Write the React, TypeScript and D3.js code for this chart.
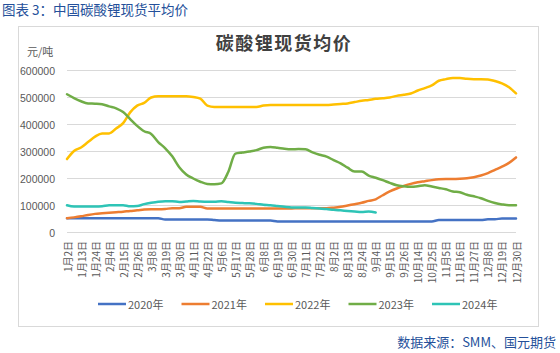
import React from "react";
import * as d3 from "d3";

// Category axis: trading days, labelled every 11th category
const xTickLabels = [
  "1月2日", "1月13日", "1月24日", "2月4日", "2月15日", "2月26日", "3月8日", "3月19日", "3月30日",
  "4月11日", "4月22日", "5月6日", "5月17日", "5月28日", "6月8日", "6月19日", "6月30日", "7月11日",
  "7月22日", "8月2日", "8月13日", "8月24日", "9月4日", "9月15日", "9月26日", "10月14日", "10月25日",
  "11月5日", "11月16日", "11月27日", "12月8日", "12月19日", "12月30日",
];
const yTicks = [0, 100000, 200000, 300000, 400000, 500000, 600000];

// values in thousand yuan/ton, sampled every 5.5 categories
const series2020 = [
  53, 53, 53, 53, 53, 53, 53, 53, 53, 53, 53, 53, 53, 53,
  48, 48, 48, 48, 48, 48, 48, 46,
  44, 44, 44, 44, 44, 44, 44, 44,
  41, 41, 41, 41, 41, 41, 41, 41, 41, 41, 41, 41, 41, 41, 41, 41, 41, 41, 41, 41, 41, 41, 41,
  46, 46, 46, 46, 46, 46, 46, 49, 49, 52, 52, 52,
];
const series2021 = [
  53, 56, 60, 65, 69, 71, 73, 75, 77, 80, 82, 85, 86, 86, 87, 90, 90,
  95, 95, 95,
  89, 89, 89, 89, 89, 89, 89, 89, 89, 89, 89, 89, 89,
  90, 90, 90, 90, 90,
  92, 95, 100, 105, 110, 117, 123, 138, 152, 163, 172, 180, 186, 190, 194, 197, 198, 198, 199,
  201, 205, 211, 220, 232, 244, 258, 278,
];
const series2022 = [
  272, 302, 315, 335, 355, 367, 367, 385, 405, 445, 470, 480, 500, 505, 505, 505, 505,
  505, 502, 496, 470, 465, 465, 465, 465, 465, 465, 465, 470,
  472, 472, 472, 472, 472, 472, 472, 472, 472,
  474, 476, 478, 483, 488, 491, 495, 497, 500, 506, 510, 515, 526, 535, 545, 562, 568, 572,
  572, 569, 568, 568, 567, 561, 552, 538, 515,
];
const series2023 = [
  512, 498, 486, 478, 477, 475, 467, 460, 446, 420, 395, 375, 365, 335, 312, 282, 242,
  215, 200, 188, 180, 179, 182, 225, 292, 296, 300, 305, 314, 317, 314, 310, 308,
  309, 308, 297, 288, 281, 268, 256, 240, 226, 226, 211, 203, 194, 184, 175,
  171, 169, 171, 175, 170, 165, 160, 152, 149, 140, 134, 127, 117, 109, 104, 101, 101,
];
const series2024 = [
  101, 96, 96, 96, 96, 97, 101, 101, 101, 97, 98, 105, 110, 114, 116, 116, 113,
  115, 117, 115, 114, 114, 116, 113, 110, 109, 108, 106, 103, 101, 98, 95, 93,
  93, 93, 91, 89, 87, 84, 82, 80, 78, 76, 78, 74,
];

const seriesNames = ["2020年", "2021年", "2022年", "2023年", "2024年"];
const seriesColors = ["#4472C4", "#ED7D31", "#FFC000", "#70AD47", "#2EC4B6"];
const allSeries = [series2020, series2021, series2022, series2023, series2024];

const SAMPLE_STEP = 5.5;
const TICK_STEP = 11;

export default function App() {
  const W = 560;
  const H = 353;
  const x = d3.scaleLinear().domain([0, 352]).range([67, 516]);
  const y = d3.scaleLinear().domain([0, 600000]).range([232.5, 70.5]);
  const line = d3
    .line<number>()
    .x((_, i) => x(i * SAMPLE_STEP))
    .y((d) => y(d * 1000))
    .curve(d3.curveMonotoneX);

  const grey = "#595959";
  const cjk = "'Noto Sans CJK SC', 'Liberation Sans', sans-serif";

  return (
    <svg
      width={W}
      height={H}
      style={{ position: "absolute", left: 0, top: 0, background: "#fff" }}
    >
      <rect x={0} y={0} width={W} height={H} fill="#fff" />
      {/* header */}
      <text x={2} y={15} fontSize={13.5} fill="#24509A" fontFamily={cjk}>
        图表 3：中国碳酸锂现货平均价
      </text>
      {/* chart frame */}
      <rect x={18.5} y={26.5} width={520} height={300} fill="none" stroke="#D9D9D9" strokeWidth={1} />
      {/* chart title */}
      <text
        x={284}
        y={50}
        textAnchor="middle"
        fontSize={18}
        fontWeight="bold"
        fill="#404040"
        fontFamily={cjk}
        letterSpacing={1.5}
      >
        碳酸锂现货均价
      </text>
      <text x={27} y={56} fontSize={11} fill={grey} fontFamily={cjk}>
        元/吨
      </text>
      {/* gridlines + y labels */}
      {yTicks.map((t) => (
        <g key={t}>
          <line x1={67} x2={516} y1={y(t)} y2={y(t)} stroke="#D9D9D9" strokeWidth={1} />
          <text
            x={55}
            y={y(t)}
            textAnchor="end"
            dominantBaseline="central"
            fontSize={10.5}
            fill={grey}
            fontFamily="'Liberation Sans', sans-serif"
          >
            {t}
          </text>
        </g>
      ))}
      {/* x labels */}
      {xTickLabels.map((lab, j) => {
        const px = x(j * TICK_STEP);
        return (
          <text
            key={lab}
            transform={`translate(${px},${241}) rotate(-90)`}
            textAnchor="end"
            dominantBaseline="central"
            fontSize={10}
            fill={grey}
            fontFamily={cjk}
          >
            {lab}
          </text>
        );
      })}
      {/* series */}
      {allSeries.map((s, i) => (
        <path
          key={seriesNames[i]}
          d={line(s) || ""}
          fill="none"
          stroke={seriesColors[i]}
          strokeWidth={2.5}
          strokeLinejoin="round"
          strokeLinecap="round"
        />
      ))}
      {/* legend */}
      {seriesNames.map((n, i) => {
        const lx = 98 + i * 83.5;
        return (
          <g key={n}>
            <line x1={lx} x2={lx + 28} y1={304} y2={304} stroke={seriesColors[i]} strokeWidth={2.5} />
            <text x={lx + 30} y={304} dominantBaseline="central" fontSize={11} fill={grey} fontFamily={cjk}>
              {n}
            </text>
          </g>
        );
      })}
      {/* source */}
      <text x={556} y={347} textAnchor="end" fontSize={13} fill="#24509A" fontFamily={cjk}>
        数据来源：SMM、国元期货
      </text>
    </svg>
  );
}
